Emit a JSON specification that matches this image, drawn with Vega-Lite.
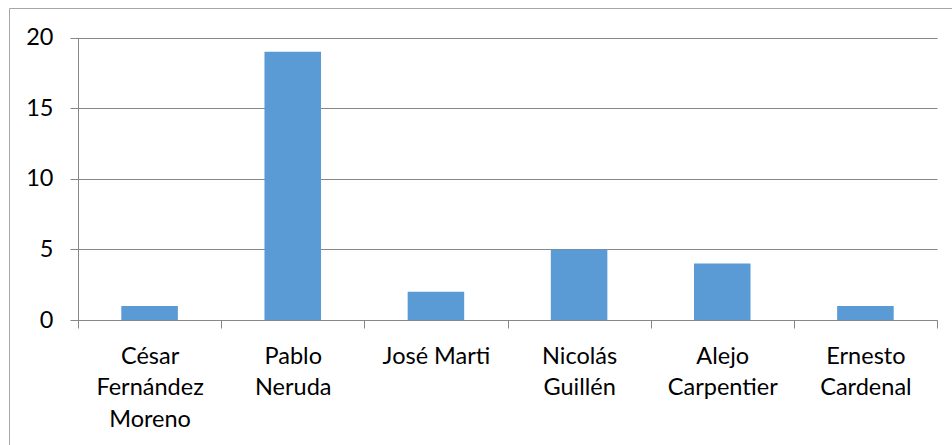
{
  "$schema": "https://vega.github.io/schema/vega-lite/v6.json",
  "width": 1000,
  "height": 460,
  "autosize": {"type": "none"},
  "padding": {"left": 9, "top": 8, "right": -57, "bottom": -23},
  "background": "white",
  "config": {
    "view": {"stroke": "#a6a6a6", "strokeWidth": 1},
    "font": "Lato"
  },
  "data": {
    "values": [
      {"autor": "César Fernández Moreno", "obras": 1},
      {"autor": "Pablo Neruda", "obras": 19},
      {"autor": "José Marti", "obras": 2},
      {"autor": "Nicolás Guillén", "obras": 5},
      {"autor": "Alejo Carpentier", "obras": 4},
      {"autor": "Ernesto Cardenal", "obras": 1}
    ]
  },
  "mark": {"type": "bar", "color": "#5B9BD5", "width": {"band": 0.395}},
  "encoding": {
    "x": {
      "field": "autor",
      "type": "nominal",
      "sort": null,
      "scale": {"range": [69, 928], "paddingInner": 0, "paddingOuter": 0},
      "axis": {
        "title": null,
        "offset": -148,
        "labelAngle": 0,
        "labelFontSize": 23.5,
        "labelLineHeight": 31.5,
        "labelColor": "#000000",
        "labelPadding": 16,
        "labelLimit": 0,
        "labelExpr": "datum.label == 'César Fernández Moreno' ? ['César', 'Fernández', 'Moreno'] : datum.label == 'José Marti' ? 'José Marti' : split(datum.label, ' ')",
        "tickBand": "extent",
        "tickSize": 8,
        "tickColor": "#878787",
        "domainColor": "#878787",
        "grid": false
      }
    },
    "y": {
      "field": "obras",
      "type": "quantitative",
      "scale": {"domain": [0, 20], "range": [312, 29.5], "nice": false, "zero": true},
      "axis": {
        "title": null,
        "offset": -69,
        "values": [0, 5, 10, 15, 20],
        "labelFontSize": 23.5,
        "labelColor": "#000000",
        "labelPadding": 17,
        "tickSize": 8,
        "tickColor": "#878787",
        "domainColor": "#878787",
        "grid": true,
        "gridColor": "#878787",
        "gridOpacity": 1
      }
    }
  }
}
